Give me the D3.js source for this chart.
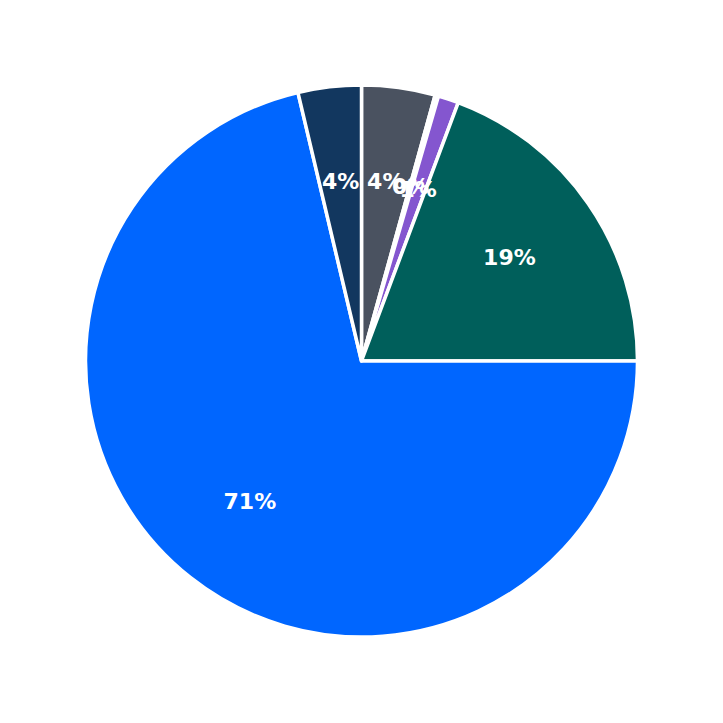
<!DOCTYPE html>
<html>
<head>
<meta charset="utf-8">
<script src="https://cdn.jsdelivr.net/npm/d3@7"></script>
<style>
  html, body { margin: 0; padding: 0; background: #ffffff; }
</style>
</head>
<body>
<svg id="chart"></svg>
<script>
// slices clockwise from 12 o'clock
var categories = ["A", "B", "C", "D", "E", "F"];
var values = [4.3, 0.2, 1.2, 19.3, 71.3, 3.7];
var colors = ["#4a5260", "#4a5260", "#8456cf", "#005f5b", "#0066ff", "#12375f"];

var w = 723;
var h = 723;
var cx = 361.5;
var cy = 361;
var radius = 276;
var labelRadius = 180;

var svg = d3.select("#chart")
    .attr("width", w)
    .attr("height", h);

var g = svg.append("g")
    .attr("transform", "translate(" + cx + "," + cy + ")");

var total = d3.sum(values);

var pie = d3.pie()
    .sort(null)
    .value(function(d) { return d; });

var arcs = pie(values);

var arc = d3.arc()
    .innerRadius(0)
    .outerRadius(radius);

var labelArc = d3.arc()
    .innerRadius(labelRadius)
    .outerRadius(labelRadius);

g.selectAll("path")
    .data(arcs)
    .enter()
    .append("path")
    .attr("d", arc)
    .attr("fill", function(d, i) { return colors[i]; })
    .attr("stroke", "#ffffff")
    .attr("stroke-width", 3.5)
    .attr("stroke-linejoin", "round");

// labels overlap on the two thin slices, same as the original
g.selectAll("text")
    .data(arcs)
    .enter()
    .append("text")
    .attr("transform", function(d) {
        var c = labelArc.centroid(d);
        return "translate(" + c[0] + "," + (c[1] - 1) + ")";
    })
    .attr("text-anchor", "middle")
    .attr("dominant-baseline", "central")
    .attr("font-family", "DejaVu Sans, sans-serif")
    .attr("font-weight", "bold")
    .attr("font-size", 22)
    .attr("fill", "#ffffff")
    .text(function(d) {
        return Math.round(d.data / total * 100) + "%";
    });
</script>
</body>
</html>
